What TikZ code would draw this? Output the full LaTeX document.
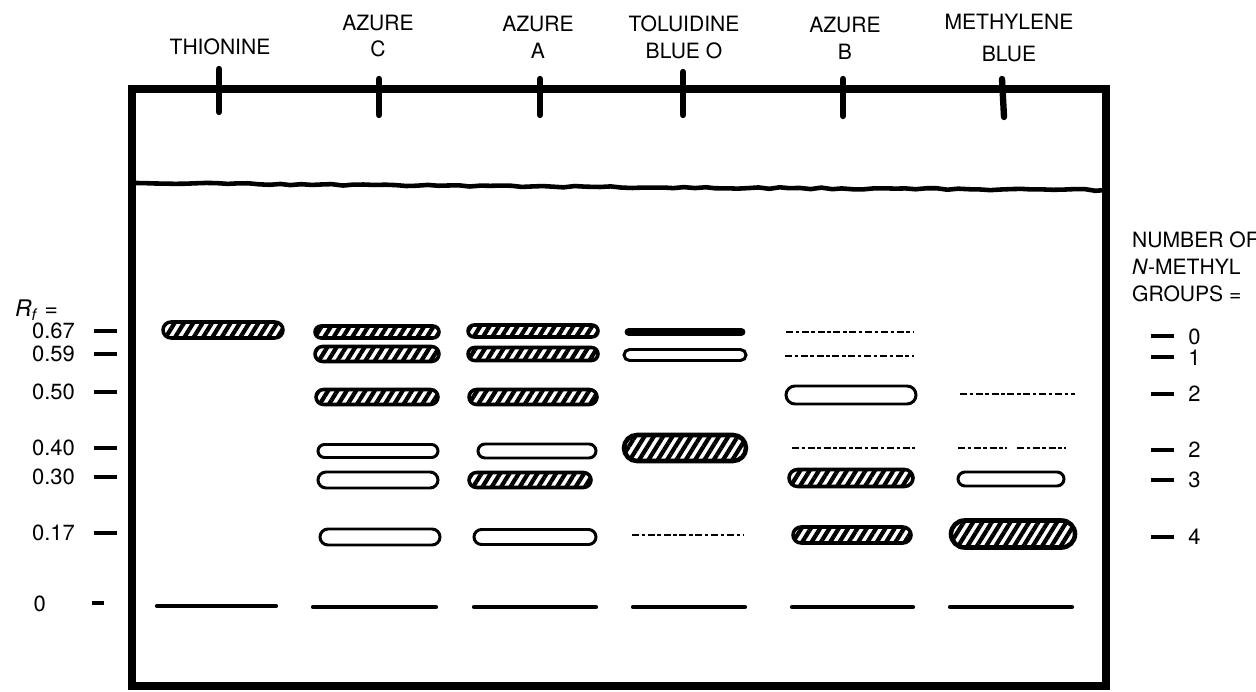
\documentclass[tikz,border=0pt]{standalone}
\usepackage{fontspec}
\setmainfont{TeX Gyre Heros}
\usetikzlibrary{patterns.meta,shapes.misc,decorations.pathmorphing}

\begin{document}
\begin{tikzpicture}[x=0.02cm,y=-0.02cm,
    every node/.style={font=\fontsize{12}{15.3}\selectfont},
    lane/.style={align=center},
    plate/.style={line width=4.4pt},
    front/.style={line width=2.6pt, decorate, decoration={random steps,segment length=6pt,amplitude=0.5pt}},
    spotting/.style={line width=3.6pt, line cap=round},
    rfdash/.style={line width=1.8pt},
    rfnum/.style={anchor=east, font=\fontsize{12.5}{14}\selectfont},
    grpnum/.style={anchor=west, inner sep=0pt, font=\fontsize{12.5}{14}\selectfont},
    spotdim/.style 2 args={minimum width=#1*0.02cm, minimum height=#2*0.02cm},
    hatchspot/.style={rounded rectangle, draw, line width=2pt, inner sep=0pt,
        pattern={Lines[angle=58,distance=4.5pt,line width=2.4pt]}},
    openspot/.style={rounded rectangle, draw, line width=1.7pt, fill=white, inner sep=0pt},
    faint/.style={line width=1.5pt, dash pattern=on 4pt off 1.5pt on 2pt off 1.5pt},
    origin/.style={line width=2.4pt, line cap=round}]
\useasboundingbox (0,0) rectangle (1256,692);
\pgfmathsetseed{11}

% plate and solvent front
\draw[plate] (132,89) -- (1106,89) -- (1106,686) -- (132,686) -- cycle;
\draw[front] (132,183) -- (600,187) -- (1106,190);

% dye names and application marks
\node[lane] (thio) at (220,47) {THIONINE};
\node[lane] (azc) at (378,36) {AZURE\\C};
\node[lane] (aza) at (538,37) {AZURE\\A};
\node[lane] (tol) at (684,37) {TOLUIDINE\\BLUE O};
\node[lane] (azb) at (845,38) {AZURE\\B};
\node[lane] (meb) at (1009,38) {METHYLENE\\[3pt]BLUE};
\draw[spotting] (219,69) -- (219,112);
\draw[spotting] (379,79) -- (379,115);
\draw[spotting] (540,79) -- (540,115);
\draw[spotting] (683,72) -- (683,115);
\draw[spotting] (843,79) -- (843,116);
\draw[spotting] (1002,79) -- (1004,117);

% Rf scale
\node[anchor=west, font=\fontsize{13}{15}\selectfont] (rf) at (9,310) {\textit{R}\textsubscript{\textit{f}} =};
\node[rfnum] (r67) at (81,331) {0.67}; \draw[rfdash] (94,331) -- (117,331);
\node[rfnum] (r59) at (81,354) {0.59}; \draw[rfdash] (94,354) -- (117,354);
\node[rfnum] (r50) at (81,392) {0.50}; \draw[rfdash] (94,392) -- (117,392);
\node[rfnum] (r40) at (81,448) {0.40}; \draw[rfdash] (94,448) -- (117,448);
\node[rfnum] (r30) at (81,477) {0.30}; \draw[rfdash] (94,477) -- (117,477);
\node[rfnum] (r17) at (81,533) {0.17}; \draw[rfdash] (94,533) -- (117,533);
\node[rfnum] (r0) at (52,604) {0}; \draw[rfdash] (92,603) -- (104,603);

% number of N-methyl groups
\node[anchor=north west, align=left] (grp) at (1126,226) {NUMBER OF\\\textit{N}-METHYL\\GROUPS =};
\draw[rfdash] (1151,336) -- (1174,336); \node[grpnum] (g0) at (1188,337) {0};
\draw[rfdash] (1151,357) -- (1174,357); \node[grpnum] (g1) at (1188,358) {1};
\draw[rfdash] (1151,394) -- (1174,394); \node[grpnum] (g2a) at (1188,394) {2};
\draw[rfdash] (1151,450) -- (1174,450); \node[grpnum] (g2b) at (1188,450) {2};
\draw[rfdash] (1151,480) -- (1174,480); \node[grpnum] (g3) at (1188,480) {3};
\draw[rfdash] (1151,537) -- (1174,537); \node[grpnum] (g4) at (1188,537) {4};

% thionine
\node[hatchspot, spotdim={120}{16}] (thio67) at (223,330) {};

% azure C
\node[hatchspot, spotdim={124}{12}] (azc67) at (377,332) {};
\node[hatchspot, spotdim={124}{15}] (azc59) at (377,354) {};
\node[hatchspot, spotdim={122}{15}] (azc50) at (377,397) {};
\node[openspot, spotdim={120}{13}] (azc40) at (378,451) {};
\node[openspot, spotdim={120}{16}] (azc30) at (378,480) {};
\node[openspot, spotdim={120}{16}] (azc17) at (380,537) {};

% azure A
\node[hatchspot, spotdim={130}{12}] (aza67) at (533,331) {};
\node[hatchspot, spotdim={130}{13}] (aza59) at (533,354) {};
\node[hatchspot, spotdim={128}{15}] (aza50) at (533,397) {};
\node[openspot, spotdim={118}{14}] (aza40) at (537,451) {};
\node[hatchspot, spotdim={122}{15}] (aza30) at (530,480) {};
\node[openspot, spotdim={122}{15}] (aza17) at (535,537) {};

% toluidine blue O
\node[rounded rectangle, draw, fill, line width=1.5pt, inner sep=0pt, spotdim={118}{5}] (tol67) at (685,332) {};
\node[openspot, spotdim={122}{11}] (tol59) at (685,355) {};
\node[hatchspot, spotdim={122}{26}, line width=2.6pt] (tol40) at (685,448) {};
\draw[faint] (632,535) -- (744,535);

% azure B
\draw[faint] (786,332) -- (914,332);
\draw[faint] (785,356) -- (914,356);
\node[openspot, spotdim={130}{18}] (azb50) at (851,395) {};
\draw[faint] (792,448) -- (915,448);
\node[hatchspot, spotdim={124}{17}] (azb30) at (851,478) {};
\node[hatchspot, spotdim={118}{16}] (azb17) at (852,535) {};

% methylene blue
\draw[faint] (960,394) -- (1075,394);
\draw[faint] (958,448) -- (1007,448);
\draw[faint] (1017,448) -- (1066,448);
\node[openspot, spotdim={106}{14}] (meb30) at (1011,479) {};
\node[hatchspot, spotdim={124}{27}, line width=2.6pt] (meb17) at (1013,534) {};

% origin
\draw[origin] (157,606) -- (276,606);
\draw[origin] (313,607) -- (436,607);
\draw[origin] (474,607) -- (596,607);
\draw[origin] (633,607) -- (745,607);
\draw[origin] (792,607) -- (913,607);
\draw[origin] (950,607) -- (1072,607);
\end{tikzpicture}
\end{document}
